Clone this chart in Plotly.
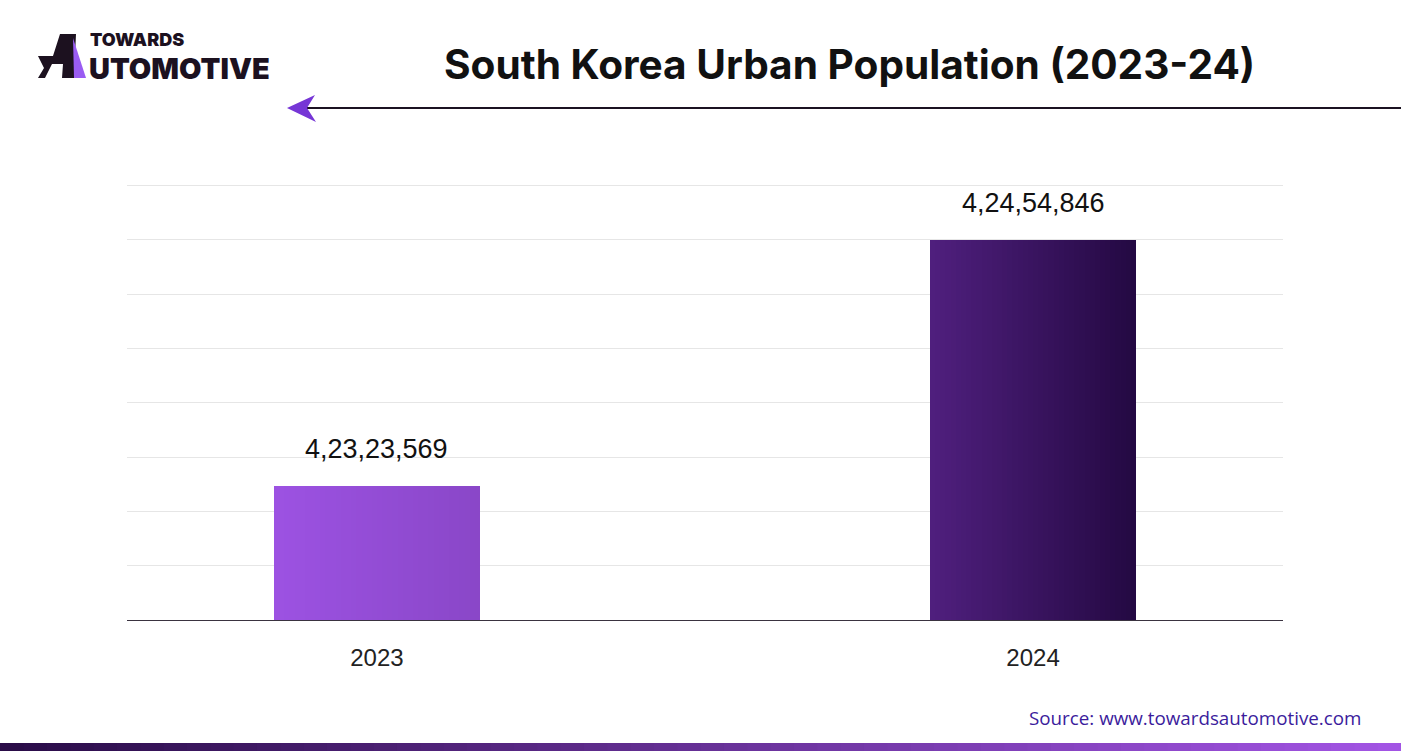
import plotly.graph_objects as go

# ---- data ----
years = ["2023", "2024"]
population = [42323569, 42454846]
value_labels = ["4,23,23,569", "4,24,54,846"]

# gradient endpoints per bar (left -> right)
bar_left_colors = ["#9c52e2", "#4f1f7d"]
bar_right_colors = ["#8a47c8", "#240943"]

W, H = 1401, 751
L, R, T, B = 127, 118, 180, 131
PW, PH = W - L - R, H - T - B

def px(x):
    return (x - L) / PW

def py(y):
    return (H - B - y) / PH

def hex2rgb(h):
    h = h.lstrip("#")
    return tuple(int(h[i:i + 2], 16) for i in (0, 2, 4))

def mix(c1, c2, t):
    a, b = hex2rgb(c1), hex2rgb(c2)
    return "rgb(%d,%d,%d)" % tuple(round(a[k] + (b[k] - a[k]) * t) for k in range(3))

fig = go.Figure()

bar_w = 0.314
N = 40
step = bar_w / N
for i in range(N):
    t = i / (N - 1)
    fig.add_trace(go.Bar(
        x=years, y=population,
        width=bar_w - i * step,
        offset=-bar_w / 2 + i * step,
        marker=dict(color=[mix(bar_left_colors[k], bar_right_colors[k], t) for k in range(2)],
                    line=dict(width=0)),
        showlegend=False, hoverinfo="skip",
    ))

for k in range(2):
    fig.add_annotation(x=k, y=population[k], text=value_labels[k],
                       showarrow=False, yanchor="bottom", yshift=20,
                       font=dict(family="Liberation Sans, Arial", size=27, color="#111111"))

# axis scale chosen so gridlines fall as in the reference
step_val = 28935
y_min = 42252301
y_max = y_min + 8.1 * step_val

fig.update_layout(
    width=W, height=H,
    margin=dict(l=L, r=R, t=T, b=B, pad=0),
    paper_bgcolor="white", plot_bgcolor="white",
    barmode="overlay", bargap=0,
    xaxis=dict(range=[-0.381, 1.381], type="category", showgrid=False,
               showline=True, linecolor="#3a3340", linewidth=1.2,
               ticks="", tickfont=dict(family="Liberation Sans, Arial", size=24, color="#222222"),
               ticklabelstandoff=16),
    yaxis=dict(range=[y_min, y_max], tick0=y_min, dtick=step_val,
               showticklabels=False, showgrid=True, gridcolor="#e6e6e6", gridwidth=1,
               zeroline=False, showline=False, fixedrange=True),
    font=dict(family="Liberation Sans, Arial"),
)

# Title
fig.add_annotation(xref="paper", yref="paper", x=px(849), y=py(65),
                   text="<b>South Korea Urban Population (2023-24)</b>", showarrow=False,
                   xanchor="center", yanchor="middle",
                   font=dict(family="Inter", size=40.6, color="#111111"))

# Line with arrow head
fig.add_shape(type="line", xref="paper", yref="paper",
              x0=px(305), x1=px(1401), y0=py(108), y1=py(108),
              line=dict(color="#1b1222", width=2))
arrow_pts = [(287, 108), (315, 95), (307, 108), (316, 122)]
path = "M " + " L ".join("%f,%f" % (px(x), py(y)) for x, y in arrow_pts) + " Z"
fig.add_shape(type="path", xref="paper", yref="paper", path=path,
              fillcolor="#7636d6", line=dict(width=0))

# Logo icon
black_pts = [(60, 34), (76, 34), (74, 78), (62, 78), (63, 64), (52, 64), (45, 78), (38, 78), (44, 68), (38, 56), (53, 56)]
path = "M " + " L ".join("%f,%f" % (px(x), py(y)) for x, y in black_pts) + " Z"
fig.add_shape(type="path", xref="paper", yref="paper", path=path,
              fillcolor="#1c111f", line=dict(width=0))
purple_pts = [(73, 38), (86, 78), (74, 78)]
path = "M " + " L ".join("%f,%f" % (px(x), py(y)) for x, y in purple_pts) + " Z"
fig.add_shape(type="path", xref="paper", yref="paper", path=path,
              fillcolor="#9a5cf2", line=dict(width=0))

fig.add_annotation(xref="paper", yref="paper", x=px(88), y=py(39.5), text="TOWARDS",
                   showarrow=False, xanchor="left", yanchor="middle",
                   font=dict(family="Inter", size=18, color="#1c111f", weight=900))
fig.add_annotation(xref="paper", yref="paper", x=px(87), y=py(68.5), text="UTOMOTIVE",
                   showarrow=False, xanchor="left", yanchor="middle",
                   font=dict(family="Inter", size=29, color="#1c111f", weight=900))

# Source
fig.add_annotation(xref="paper", yref="paper", x=px(1363), y=py(718),
                   text="Source: www.towardsautomotive.com", showarrow=False,
                   xanchor="right", yanchor="middle",
                   font=dict(family="Open Sans", size=18.8, color="#3b1c9c", weight=500))

# Bottom gradient strip
NS = 60
for i in range(NS):
    t = i / (NS - 1)
    x0 = i * W / NS
    x1 = (i + 1) * W / NS + 1
    fig.add_shape(type="rect", xref="paper", yref="paper",
                  x0=px(x0), x1=px(x1), y0=py(751), y1=py(743),
                  fillcolor=mix("#2a0c48", "#a254e4", t), line=dict(width=0), layer="above")

fig.write_html("out.html", config={"displayModeBar": False},
               post_script="document.body.style.margin='0';document.body.style.overflow='hidden';")
